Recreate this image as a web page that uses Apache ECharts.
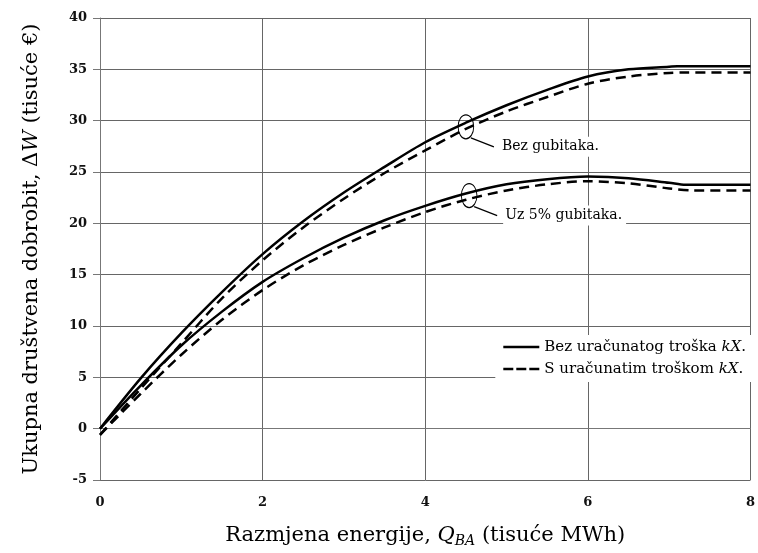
<!DOCTYPE html>
<html>
<head>
<meta charset="utf-8">
<script src="https://cdn.jsdelivr.net/npm/echarts@6/dist/echarts.min.js"></script>
<style>
html,body{margin:0;padding:0;background:#fff;}
#chart{width:758px;height:553px;}
</style>
</head>
<body>
<div id="chart"></div>
<script>
// ---- data ----
var qUpperSolid = [0,0.5,1,1.5,2,2.5,3,3.5,4,4.5,5,5.5,6,6.5,7,7.1,8];
var wUpperSolid = [0,4.9,9.3,13.3,17.0,20.2,23.0,25.5,27.9,29.8,31.5,33.0,34.3,35.0,35.25,35.3,35.3];

var qUpperDash = [0,0.5,1,1.5,2,2.5,3,3.5,4,4.5,5,5.5,6,6.5,7,7.2,8];
var wUpperDash = [-0.6,3.9,8.3,12.7,16.4,19.6,22.4,24.9,27.1,29.2,30.9,32.3,33.6,34.3,34.65,34.7,34.7];

var qLowerSolid = [0,0.5,1,1.5,2,2.5,3,3.5,4,4.5,5,5.5,6,6.5,7,7.2,8];
var wLowerSolid = [0,4.2,8.1,11.4,14.3,16.6,18.6,20.3,21.7,22.9,23.8,24.3,24.55,24.4,23.95,23.75,23.75];

var qLowerDash = [0,0.5,1,1.5,2,2.5,3,3.5,4,4.5,5,5.5,6,6.5,7,7.3,8];
var wLowerDash = [-0.6,3.4,7.2,10.6,13.5,15.9,17.9,19.6,21.1,22.3,23.2,23.8,24.1,23.9,23.4,23.2,23.2];

var legendNames = ['Bez uračunatog troška kX.', 'S uračunatim troškom kX.'];
var annotLabels = ['Bez gubitaka.', 'Uz 5% gubitaka.'];
var annotPoints = [[4.5, 29.4], [4.54, 22.7]];

var xTitle = 'Razmjena energije, {i|Q}{sub|BA} (tisuće MWh)';
var yTitle = 'Ukupna društvena dobrobit, Δ{i|W} (tisuće €)';

function zip(a, b) { return a.map(function (v, i) { return [v, b[i]]; }); }

var FONT = 'DejaVu Serif';
var chart = echarts.init(document.getElementById('chart'), null, {renderer: 'canvas'});

function lineSeries(name, q, w, dashed) {
  return {
    type: 'line', name: name, data: zip(q, w), symbol: 'none', smooth: 0.3,
    color: '#000',
    lineStyle: {color: '#000', width: 2.5, type: dashed ? [10, 6] : 'solid'},
    z: 3
  };
}

var ICON_SOLID = 'path://M0,0h36v2.5h-36z';
var ICON_DASH = 'path://M0,0h10v2.5h-10z M13,0h10v2.5h-10z M26,0h10v2.5h-10z';

var option = {
  backgroundColor: '#fff',
  animation: false,
  grid: {left: 100, right: 6, top: 18, bottom: 69, containLabel: false},
  xAxis: {
    type: 'value', min: 0, max: 8, interval: 2,
    name: xTitle, nameLocation: 'middle', nameGap: 44,
    nameTextStyle: {fontFamily: FONT, fontSize: 21, color: '#000',
      rich: {i: {fontFamily: FONT, fontSize: 21, fontStyle: 'italic', color: '#000'},
             sub: {fontFamily: FONT, fontSize: 14, fontStyle: 'italic', color: '#000', padding: [10, 0, 0, 0]}}},
    axisLine: {show: true, lineStyle: {color: '#777', width: 1}},
    axisTick: {show: false},
    axisLabel: {fontFamily: FONT, fontSize: 13, fontWeight: 'bold', color: '#111', margin: 16},
    splitLine: {show: true, lineStyle: {color: '#666', width: 1}}
  },
  yAxis: {
    type: 'value', min: -5, max: 40, interval: 5,
    name: yTitle, nameLocation: 'middle', nameGap: 58, nameRotate: 90,
    nameTextStyle: {fontFamily: FONT, fontSize: 21, color: '#000',
      rich: {i: {fontFamily: FONT, fontSize: 21, fontStyle: 'italic', color: '#000'}}},
    axisLine: {show: true, lineStyle: {color: '#777', width: 1}},
    axisTick: {show: true, inside: false, length: 7, lineStyle: {color: '#777'}},
    axisLabel: {fontFamily: FONT, fontSize: 13, fontWeight: 'bold', color: '#111', margin: 13},
    splitLine: {show: true, lineStyle: {color: '#666', width: 1}}
  },
  legend: {
    data: [{name: legendNames[0], icon: ICON_SOLID}, {name: legendNames[1], icon: ICON_DASH}],
    right: 6, top: 335,
    orient: 'vertical',
    backgroundColor: '#fff',
    padding: [3, 6, 4, 8],
    itemGap: 4,
    itemWidth: 36, itemHeight: 2.5,
    itemStyle: {color: '#000'},
    textStyle: {fontFamily: FONT, fontSize: 15, color: '#000', lineHeight: 18,
      rich: {i: {fontFamily: FONT, fontSize: 15, fontStyle: 'italic', color: '#000'}}},
    formatter: function (n) { return n.replace('kX', '{i|kX}'); }
  },
  series: [
    lineSeries(legendNames[0], qUpperSolid, wUpperSolid, false),
    lineSeries(legendNames[1], qUpperDash, wUpperDash, true),
    lineSeries(legendNames[0], qLowerSolid, wLowerSolid, false),
    lineSeries(legendNames[1], qLowerDash, wLowerDash, true),
    {
      type: 'custom', name: 'annot', z: 5, silent: true,
      data: annotPoints.map(function (p, i) { return [p[0], p[1], i]; }),
      renderItem: function (params, api) {
        var c = api.coord([api.value(0), api.value(1)]);
        var idx = api.value(2);
        return {
          type: 'group',
          children: [
            {type: 'text', x: c[0] + 34, y: c[1] + 20,
             style: {text: annotLabels[idx], fontFamily: FONT, fontSize: 14, fill: '#000',
                     verticalAlign: 'middle', align: 'left',
                     backgroundColor: '#fff', padding: [3, 4, 3, 2]}},
            {type: 'circle', x: c[0], y: c[1], scaleX: 0.65, scaleY: 1,
             shape: {cx: 0, cy: 0, r: 12},
             style: {fill: 'none', stroke: '#000', lineWidth: 1.4}},
            {type: 'line', shape: {x1: c[0] + 5, y1: c[1] + 11, x2: c[0] + 28, y2: c[1] + 20},
             style: {stroke: '#000', lineWidth: 1.2}}
          ]
        };
      }
    }
  ]
};
chart.setOption(option);
</script>
</body>
</html>
